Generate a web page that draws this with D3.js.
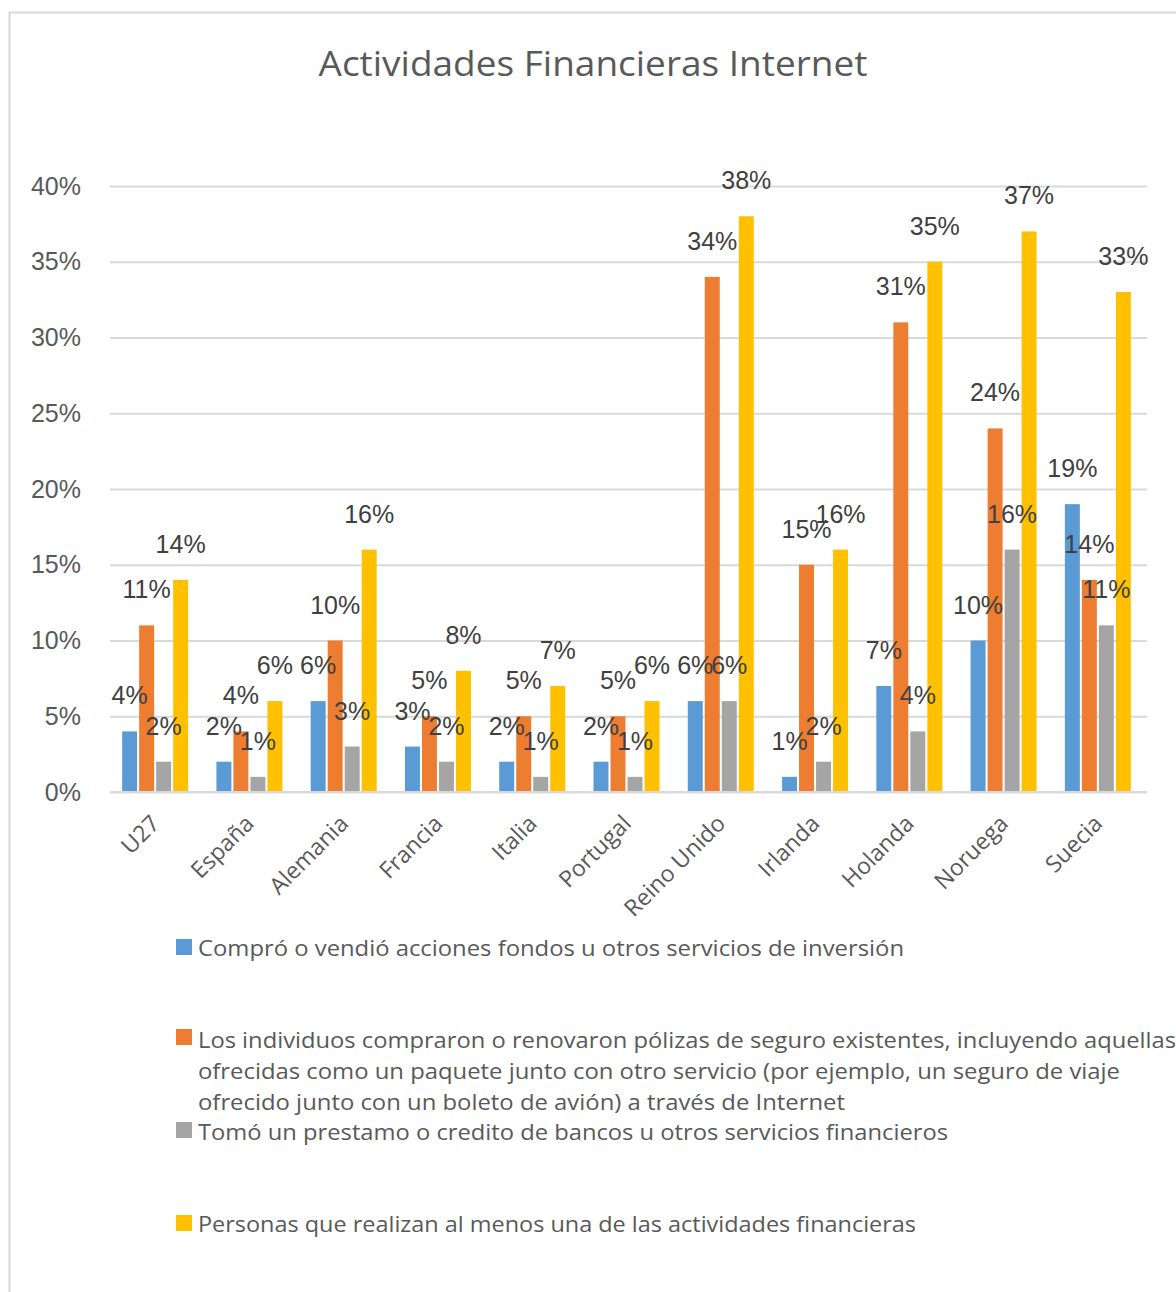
<!DOCTYPE html>
<html>
<head>
<meta charset="utf-8">
<script src="https://cdn.jsdelivr.net/npm/d3@7"></script>
<style>
  html, body { margin: 0; padding: 0; background: #fff; }
  svg { display: block; }
</style>
</head>
<body>
<svg id="chart" width="1176" height="1292"></svg>
<script>
const title = "Actividades Financieras Internet";
const categories = ["U27", "España", "Alemania", "Francia", "Italia", "Portugal", "Reino Unido", "Irlanda", "Holanda", "Noruega", "Suecia"];
const seriesKeys = ["compro", "polizas", "prestamo", "alMenos"];
const compro   = [4, 2, 6, 3, 2, 2, 6, 1, 7, 10, 19];
const polizas  = [11, 4, 10, 5, 5, 5, 34, 15, 31, 24, 14];
const prestamo = [2, 1, 3, 2, 1, 1, 6, 2, 4, 16, 11];
const alMenos  = [14, 6, 16, 8, 7, 6, 38, 16, 35, 37, 33];
const yTicks = [0, 5, 10, 15, 20, 25, 30, 35, 40];
const colors = ["#5B9BD5", "#ED7D31", "#A5A5A5", "#FFC000"];
const legendLines = [
  ["Compró o vendió acciones fondos u otros servicios de inversión"],
  ["Los individuos compraron o renovaron pólizas de seguro existentes, incluyendo aquellas",
   "ofrecidas como un paquete junto con otro servicio (por ejemplo, un seguro de viaje",
   "ofrecido junto con un boleto de avión) a través de Internet"],
  ["Tomó un prestamo o credito de bancos u otros servicios financieros"],
  ["Personas que realizan al menos una de las actividades financieras"]
];

const values = [compro, polizas, prestamo, alMenos];
const svg = d3.select("#chart");

// outer border
svg.append("rect").attr("x", 9.5).attr("y", 12.5).attr("width", 1300).attr("height", 1400)
  .attr("fill", "none").attr("stroke", "#D9D9D9").attr("stroke-width", 2);

// title
svg.append("text").attr("x", 593).attr("y", 76).attr("text-anchor", "middle")
  .attr("font-family", "'Open Sans', sans-serif").attr("font-size", 34).attr("fill", "#595959")
  .attr("textLength", 549).attr("lengthAdjust", "spacingAndGlyphs")
  .text(title);

const y = d3.scaleLinear().domain([0, 40]).range([792, 186]);
const x0 = d3.scaleBand().domain(categories).range([108, 1145]).paddingInner(0.3).paddingOuter(0.15);
const x1 = d3.scaleBand().domain(seriesKeys).range([0, x0.bandwidth()]).paddingInner(0.12);

// gridlines
const yAxis = d3.axisLeft(y).tickValues(yTicks).tickSize(-(1147 - 110)).tickFormat(d => d + "%");
const gy = svg.append("g").attr("transform", "translate(110,0)").call(yAxis);
gy.select(".domain").remove();
gy.selectAll(".tick line").attr("stroke", "#D9D9D9").attr("stroke-width", 2);
gy.selectAll(".tick text").attr("x", -29).attr("font-family", "'Liberation Sans', Arial, sans-serif")
  .attr("font-size", 25).attr("fill", "#595959");

// bars
const groups = svg.append("g").selectAll("g").data(categories).join("g")
  .attr("transform", d => `translate(${x0(d)},0)`);

groups.each(function(cat, ci) {
  const g = d3.select(this);
  seriesKeys.forEach((k, si) => {
    const v = values[si][ci];
    g.append("rect").attr("x", x1(k)).attr("width", x1.bandwidth())
      .attr("y", y(v)).attr("height", y(0) - y(v)).attr("fill", colors[si]);
  });
});

// data labels
groups.each(function(cat, ci) {
  const g = d3.select(this);
  seriesKeys.forEach((k, si) => {
    const v = values[si][ci];
    g.append("text").attr("x", x1(k) + x1.bandwidth() / 2).attr("y", y(v) - 36)
      .attr("dy", "0.36em").attr("text-anchor", "middle")
      .attr("font-family", "'Liberation Sans', Arial, sans-serif").attr("font-size", 25)
      .attr("fill", "#404040").text(v + "%");
  });
});

// x axis baseline
svg.append("line").attr("x1", 110).attr("x2", 1147).attr("y1", y(0)).attr("y2", y(0))
  .attr("stroke", "#D9D9D9").attr("stroke-width", 2);

// category labels
const xAxis = d3.axisBottom(x0).tickSize(0).tickPadding(0);
const gx = svg.append("g").attr("transform", `translate(0,${y(0)})`).call(xAxis);
gx.select(".domain").remove();
gx.selectAll(".tick text")
  .attr("font-family", "'Open Sans', sans-serif").attr("font-size", 23).attr("fill", "#595959")
  .attr("text-anchor", "end").attr("dy", 0).attr("y", 0)
  .attr("transform", "translate(6,33) rotate(-45)");

// legend
const legendSquares = [939, 1029, 1122, 1215];
const legendBase = [[956], [1048, 1079, 1110], [1140], [1232]];
const legendWidths = [[706], [978, 922, 647], [750], [718]];
const lg = svg.append("g");
legendLines.forEach((lines, i) => {
  lg.append("rect").attr("x", 176).attr("y", legendSquares[i]).attr("width", 16).attr("height", 16)
    .attr("fill", colors[i]);
  lines.forEach((t, j) => {
    lg.append("text").attr("x", 198).attr("y", legendBase[i][j])
      .attr("font-family", "'Open Sans', sans-serif").attr("font-size", 21).attr("fill", "#595959")
      .attr("textLength", legendWidths[i][j]).attr("lengthAdjust", "spacingAndGlyphs")
      .text(t);
  });
});
</script>
</body>
</html>
